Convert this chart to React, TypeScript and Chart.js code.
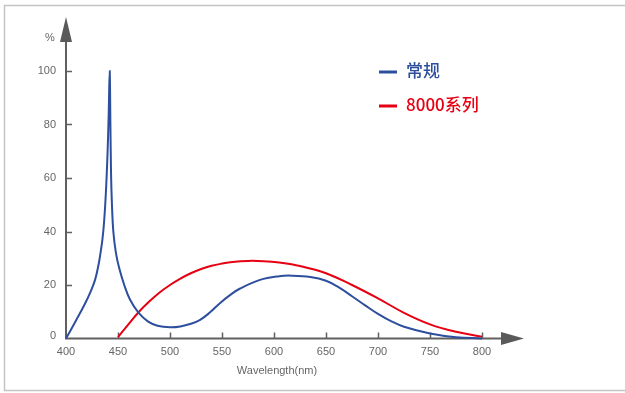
import React, { useEffect, useRef } from "react";
import { Chart, registerables } from "chart.js";

Chart.register(...registerables);

const seriesNames = ["常规", "8000系列"];
const seriesColors = ["#2d4f9d", "#e60012"];

const wavelengthsRegular = [400, 410, 418, 424, 428, 431, 433, 435, 436.5, 438, 439, 440, 441, 442, 442.7, 443.3, 444, 445.5, 448, 451, 456, 461.5, 469.5, 479, 488, 500, 510, 520, 529, 538, 548, 558, 567, 586.5, 605, 617, 635, 650, 662, 675, 688, 700, 712, 725, 750, 775, 800];
const valuesRegular = [0, 7, 12.8, 17.8, 22, 27, 31.5, 37, 43, 52, 60, 70, 83, 100, 80, 62, 52, 40, 32, 26.5, 20, 14.6, 9.8, 6.3, 4.8, 4.2, 4.5, 5.5, 7, 9.6, 13.2, 16.3, 18.6, 21.9, 23.3, 23.5, 23, 21.6, 19.2, 15.8, 12.3, 9.2, 6.6, 4.4, 1.9, 0.5, 0];

const wavelengths8000 = [450, 460, 470, 480, 490, 500, 510, 520, 530, 540, 550, 560, 575, 590, 605, 625, 650, 675, 700, 725, 750, 775, 800];
const values8000 = [0.5, 5.3, 9.9, 13.8, 17.2, 20, 22.4, 24.4, 26, 27.2, 28, 28.6, 29, 28.9, 28.4, 27.1, 24.4, 20, 15, 9.6, 5.3, 2.5, 0.7];

const xTicks = [400, 450, 500, 550, 600, 650, 700, 750, 800];
const yTicks = [0, 20, 40, 60, 80, 100];
const xTitle = "Wavelength(nm)";
const yTitle = "%";

const toPoints = (xs: number[], ys: number[]) => xs.map((x, i) => ({ x, y: ys[i] }));

const decorPlugin = {
  id: "decor",
  beforeDatasetsDraw(chart: any) {
    const ctx = chart.ctx as CanvasRenderingContext2D;
    const xs = chart.scales.x;
    const ys = chart.scales.y;
    const x0 = xs.getPixelForValue(xTicks[0]);
    const y0 = ys.getPixelForValue(yTicks[0]);
    ctx.save();
    // frame (open on the right)
    ctx.strokeStyle = "#c4c4c4";
    ctx.lineWidth = 1.5;
    ctx.beginPath();
    ctx.moveTo(630, 5.5);
    ctx.lineTo(4.5, 5.5);
    ctx.lineTo(4.5, 390.5);
    ctx.lineTo(630, 390.5);
    ctx.stroke();
    // axes
    ctx.strokeStyle = "#606060";
    ctx.lineWidth = 2;
    ctx.beginPath();
    ctx.moveTo(x0, y0);
    ctx.lineTo(x0, 40);
    ctx.moveTo(x0 - 1, y0);
    ctx.lineTo(503, y0);
    ctx.stroke();
    // arrows
    ctx.fillStyle = "#5a5a5a";
    ctx.beginPath();
    ctx.moveTo(x0, 17);
    ctx.lineTo(x0 + 6, 42);
    ctx.lineTo(x0 - 6, 42);
    ctx.closePath();
    ctx.fill();
    ctx.beginPath();
    ctx.moveTo(524, y0);
    ctx.lineTo(501, y0 - 6.5);
    ctx.lineTo(501, y0 + 6.5);
    ctx.closePath();
    ctx.fill();
    // ticks
    ctx.lineWidth = 1.5;
    ctx.beginPath();
    xTicks.forEach((v) => {
      if (v === xTicks[0]) return;
      const px = Math.round(xs.getPixelForValue(v)) + 0.5;
      ctx.moveTo(px, y0);
      ctx.lineTo(px, y0 - 6);
    });
    yTicks.forEach((v) => {
      if (v === yTicks[0]) return;
      const py = Math.round(ys.getPixelForValue(v)) + 0.5;
      ctx.moveTo(x0, py);
      ctx.lineTo(x0 + 6, py);
    });
    ctx.stroke();
    // labels
    ctx.fillStyle = "#666666";
    ctx.font = "11px 'Liberation Sans', Arial, sans-serif";
    ctx.textAlign = "center";
    ctx.textBaseline = "middle";
    xTicks.forEach((v) => {
      ctx.fillText(String(v), xs.getPixelForValue(v), y0 + 13);
    });
    ctx.textAlign = "right";
    yTicks.forEach((v) => {
      ctx.fillText(String(v), 56, ys.getPixelForValue(v) - (v === 0 ? 3 : 0));
    });
    ctx.textAlign = "center";
    ctx.fillText(yTitle, 50, 38);
    ctx.fillText(xTitle, (xs.left + xs.right) / 2 + 3, 371);
    ctx.restore();
  },
  afterDatasetsDraw(chart: any) {
    const ctx = chart.ctx as CanvasRenderingContext2D;
    ctx.save();
    const rows = [71, 105];
    chart.data.datasets.forEach((ds: any, i: number) => {
      const y = rows[i];
      ctx.strokeStyle = ds.borderColor;
      ctx.lineWidth = 3;
      ctx.beginPath();
      ctx.moveTo(379, y + 1);
      ctx.lineTo(397, y + 1);
      ctx.stroke();
      ctx.fillStyle = ds.borderColor;
      ctx.font = "500 17px 'Noto Sans CJK SC', sans-serif";
      ctx.textAlign = "left";
      ctx.textBaseline = "middle";
      ctx.fillText(ds.label, 406, y);
    });
    ctx.restore();
  },
};

export default function App() {
  const ref = useRef<HTMLCanvasElement | null>(null);
  useEffect(() => {
    if (!ref.current) return;
    const chart = new Chart(ref.current, {
      type: "line",
      data: {
        datasets: [
          {
            label: seriesNames[0],
            data: toPoints(wavelengthsRegular, valuesRegular),
            borderColor: seriesColors[0],
            borderWidth: 2,
            pointRadius: 0,
            tension: 0.4,
            clip: false,
          },
          {
            label: seriesNames[1],
            data: toPoints(wavelengths8000, values8000),
            borderColor: seriesColors[1],
            borderWidth: 2,
            pointRadius: 0,
            tension: 0.4,
            clip: false,
          },
        ],
      },
      options: {
        responsive: false,
        animation: false,
        devicePixelRatio: 1,
        layout: { padding: { left: 66, right: 143, top: 71, bottom: 54.5 } },
        scales: {
          x: { type: "linear", min: 400, max: 800, display: false },
          y: { type: "linear", min: 0, max: 100, display: false },
        },
        plugins: { legend: { display: false }, tooltip: { enabled: false } },
      },
      plugins: [decorPlugin],
    } as any);
    return () => chart.destroy();
  }, []);
  return (
    <div style={{ position: "absolute", left: 0, top: 0, width: 625, height: 393, background: "#fff" }}>
      <canvas ref={ref} width={625} height={393} />
    </div>
  );
}
